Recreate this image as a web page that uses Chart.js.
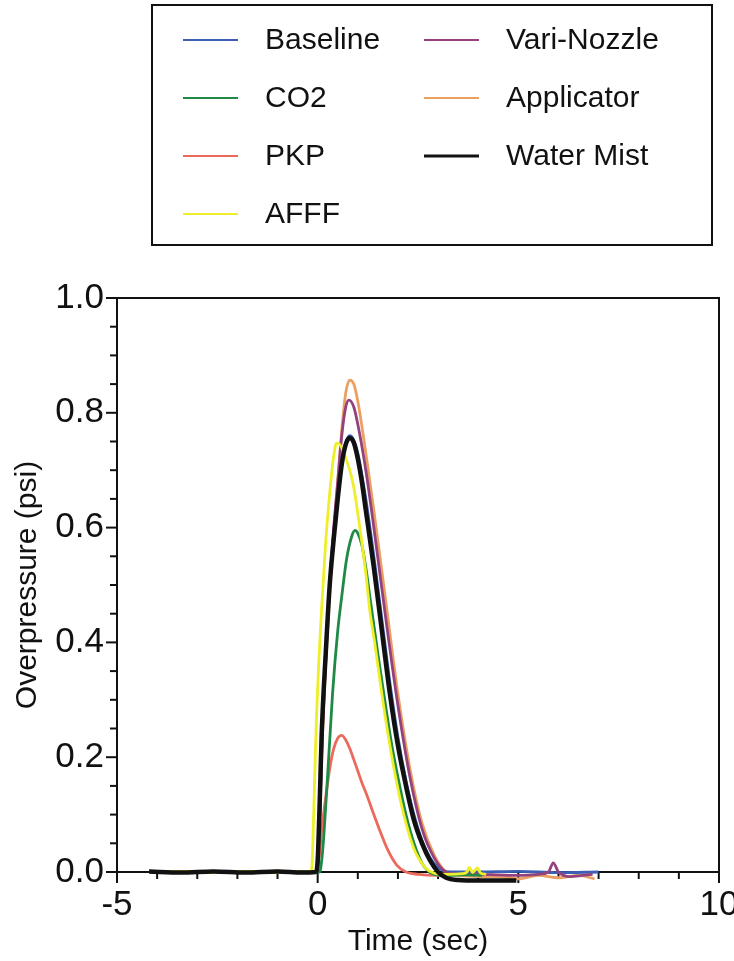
<!DOCTYPE html>
<html>
<head>
<meta charset="utf-8">
<title>Overpressure vs Time</title>
<script src="https://cdn.jsdelivr.net/npm/chart.js@4.4.1/dist/chart.umd.min.js"></script>
<style>
  html, body { margin: 0; padding: 0; background: #fff; }
  canvas { display: block; }
</style>
</head>
<body>
<canvas id="pressure" width="734" height="961"></canvas>
<script>
// legend order: left column first (4 rows), then right column
const seriesNames = ["Baseline", "CO2", "PKP", "AFFF", "Vari-Nozzle", "Applicator", "Water Mist"];
const seriesColors = ["#3b5fb5", "#1e8a46", "#ec6a5c", "#eeee2a", "#93427e", "#eba062", "#111111"];

const xLabelTicks = [-5, 0, 5, 10];
const yLabelTicks = [0.0, 0.2, 0.4, 0.6, 0.8, 1.0];

// [time (sec), overpressure (psi)] for each run
const baseline = [
  [-4.2, 0.001], [-3.4, -0.001], [-2.6, 0.001], [-1.8, -0.001], [-1.0, 0.001], [-0.4, 0.0],
  [-0.05, 0.0], [0.0, 0.01], [0.05, 0.1], [0.1, 0.22], [0.2, 0.37], [0.3, 0.5], [0.4, 0.59], [0.5, 0.66],
  [0.6, 0.715], [0.7, 0.748], [0.8, 0.76], [0.9, 0.752], [1.0, 0.73], [1.2, 0.65], [1.4, 0.55], [1.6, 0.44],
  [1.8, 0.33], [2.0, 0.235], [2.2, 0.16], [2.4, 0.1], [2.6, 0.055], [2.8, 0.025], [3.0, 0.008], [3.3, 0.0],
  [4.0, 0.0], [5.0, 0.001], [6.0, -0.001], [7.0, 0.0]
];
const co2 = [
  [-4.2, 0.001], [-3.4, -0.001], [-2.6, 0.0], [-1.8, 0.001], [-1.0, -0.001], [-0.4, 0.001],
  [0.05, 0.0], [0.1, 0.02], [0.15, 0.06], [0.25, 0.17], [0.37, 0.31], [0.5, 0.42], [0.6, 0.48], [0.72, 0.545],
  [0.85, 0.585], [0.93, 0.595], [1.0, 0.59], [1.1, 0.57], [1.2, 0.53], [1.3, 0.48], [1.4, 0.43], [1.5, 0.38],
  [1.67, 0.3], [1.85, 0.22], [2.0, 0.165], [2.2, 0.1], [2.4, 0.05], [2.6, 0.015], [2.75, 0.002], [2.9, -0.004],
  [3.3, -0.006], [3.7, -0.005], [4.1, -0.006]
];
const pkp = [
  [-4.2, 0.0], [-3.4, 0.001], [-2.6, -0.001], [-1.8, 0.001], [-1.0, 0.0], [-0.4, -0.001],
  [-0.05, 0.0], [0.0, 0.005], [0.05, 0.035], [0.12, 0.085], [0.2, 0.13], [0.3, 0.18], [0.4, 0.215], [0.5, 0.233],
  [0.6, 0.238], [0.7, 0.23], [0.8, 0.215], [0.9, 0.196], [1.0, 0.176], [1.1, 0.156], [1.22, 0.135], [1.4, 0.1],
  [1.55, 0.072], [1.75, 0.038], [1.97, 0.012], [2.2, 0.0], [2.5, -0.004], [3.0, -0.006], [3.4, -0.005]
];
const afff = [
  [-4.2, 0.0], [-3.4, 0.001], [-2.6, -0.001], [-1.8, 0.001], [-1.0, -0.001], [-0.4, 0.0],
  [-0.2, 0.0], [-0.15, 0.005], [-0.12, 0.05], [-0.08, 0.15], [-0.03, 0.27], [0.03, 0.37], [0.1, 0.46], [0.2, 0.575],
  [0.3, 0.66], [0.4, 0.725], [0.47, 0.747], [0.55, 0.745], [0.65, 0.73], [0.8, 0.7], [0.9, 0.67], [1.0, 0.625],
  [1.1, 0.575], [1.2, 0.52], [1.3, 0.455], [1.42, 0.4], [1.62, 0.3], [1.8, 0.22], [2.0, 0.145], [2.2, 0.085],
  [2.4, 0.04], [2.55, 0.02], [2.7, 0.006], [2.9, -0.002], [3.2, -0.004], [3.6, -0.003], [3.72, 0.0], [3.78, 0.008],
  [3.86, -0.001], [3.98, 0.007], [4.06, -0.002], [4.2, -0.004]
];
const variNozzle = [
  [-4.2, 0.001], [-3.4, -0.001], [-2.6, 0.001], [-1.8, -0.001], [-1.0, 0.001], [-0.4, -0.001],
  [-0.05, 0.0], [0.0, 0.015], [0.05, 0.09], [0.1, 0.21], [0.2, 0.37], [0.3, 0.5], [0.4, 0.6], [0.5, 0.68],
  [0.6, 0.76], [0.7, 0.81], [0.78, 0.822], [0.9, 0.81], [1.0, 0.78], [1.2, 0.7], [1.4, 0.6], [1.7, 0.44],
  [2.0, 0.29], [2.3, 0.165], [2.6, 0.075], [2.9, 0.025], [3.2, 0.0], [3.5, -0.004], [4.0, -0.004], [4.5, -0.005],
  [5.0, -0.006], [5.5, -0.004], [5.75, 0.0], [5.87, 0.016], [6.0, 0.0], [6.3, -0.008], [6.6, -0.006], [6.85, -0.004]
];
const applicator = [
  [-4.2, 0.002], [-3.4, -0.001], [-2.6, 0.001], [-1.8, -0.001], [-1.0, 0.002], [-0.4, -0.001],
  [-0.05, 0.0], [0.0, 0.01], [0.05, 0.08], [0.1, 0.2], [0.2, 0.36], [0.3, 0.49], [0.4, 0.59], [0.5, 0.68],
  [0.6, 0.77], [0.7, 0.835], [0.8, 0.857], [0.9, 0.85], [1.0, 0.82], [1.2, 0.73], [1.4, 0.63], [1.7, 0.47],
  [2.0, 0.31], [2.3, 0.18], [2.6, 0.085], [2.9, 0.03], [3.2, 0.0], [3.5, -0.006], [4.0, -0.008], [4.5, -0.008],
  [5.0, -0.012], [5.5, -0.006], [6.0, -0.01], [6.5, -0.006], [6.9, -0.012]
];
const waterMist = [
  [-4.2, 0.001], [-3.4, -0.001], [-2.6, 0.001], [-1.8, -0.001], [-1.0, 0.001], [-0.4, -0.001],
  [-0.05, 0.0], [0.0, 0.02], [0.05, 0.12], [0.1, 0.24], [0.2, 0.38], [0.3, 0.5], [0.4, 0.58], [0.5, 0.65],
  [0.6, 0.71], [0.7, 0.745], [0.8, 0.756], [0.9, 0.748], [1.0, 0.72], [1.1, 0.68], [1.2, 0.63], [1.4, 0.53],
  [1.6, 0.42], [1.8, 0.31], [2.0, 0.22], [2.2, 0.15], [2.4, 0.09], [2.6, 0.05], [2.8, 0.02], [3.0, 0.0],
  [3.2, -0.01], [3.5, -0.014], [4.0, -0.015], [4.5, -0.015], [4.95, -0.015]
];

const runs = [baseline, co2, pkp, afff, variNozzle, applicator, waterMist];
// lower order = drawn on top
const drawOrder = [6, 2, 3, 1, 4, 5, 0];

const FONT = '"Liberation Sans", Arial, Helvetica, sans-serif';
Chart.defaults.font.family = FONT;
Chart.defaults.color = "#111";

const isLabelled = (list, v) => list.some(t => Math.abs(t - v) < 1e-6);

// frame around the plot and outward tick marks (long at labelled ticks)
const frame = {
  id: "frame",
  beforeDatasetsDraw(chart) {
    const { ctx, chartArea: a, scales } = chart;
    ctx.save();
    ctx.strokeStyle = "#111";
    ctx.lineWidth = 2;
    ctx.strokeRect(a.left, a.top, a.right - a.left, a.bottom - a.top);
    scales.x.ticks.forEach(t => {
      const px = scales.x.getPixelForValue(t.value);
      const len = isLabelled(xLabelTicks, t.value) ? 11 : 7;
      ctx.beginPath();
      ctx.moveTo(px, a.bottom);
      ctx.lineTo(px, a.bottom + len);
      ctx.stroke();
    });
    scales.y.ticks.forEach(t => {
      const py = scales.y.getPixelForValue(t.value);
      const len = isLabelled(yLabelTicks, t.value) ? 11 : 7;
      ctx.beginPath();
      ctx.moveTo(a.left, py);
      ctx.lineTo(a.left - len, py);
      ctx.stroke();
    });
    ctx.restore();
  }
};

// boxed two-column legend above the plot
const legendBox = {
  id: "legendBox",
  afterDraw(chart) {
    const ctx = chart.ctx;
    ctx.save();
    ctx.strokeStyle = "#111";
    ctx.lineWidth = 2;
    ctx.strokeRect(152, 5, 560, 240);
    ctx.font = "30px " + FONT;
    ctx.textBaseline = "middle";
    ctx.fillStyle = "#111";
    chart.data.datasets.forEach((ds, i) => {
      const col = i < 4 ? 0 : 1;
      const row = col ? i - 4 : i;
      const x = col ? 424 : 183;
      const y = 40 + row * 58;
      ctx.strokeStyle = ds.borderColor;
      ctx.lineWidth = ds.label === "Water Mist" ? 3 : 2;
      ctx.beginPath();
      ctx.moveTo(x, y);
      ctx.lineTo(x + 55, y);
      ctx.stroke();
      ctx.fillText(ds.label, x + 82, y + 1);
    });
    ctx.restore();
  }
};

new Chart(document.getElementById("pressure"), {
  type: "line",
  data: {
    datasets: runs.map((run, i) => ({
      label: seriesNames[i],
      data: run.map(([t, p]) => ({ x: t, y: p })),
      borderColor: seriesColors[i],
      borderWidth: seriesNames[i] === "Water Mist" ? 4.5 : 2.8,
      pointRadius: 0,
      fill: false,
      cubicInterpolationMode: "monotone",
      clip: false,
      order: drawOrder[i]
    }))
  },
  options: {
    responsive: false,
    animation: false,
    layout: { padding: { top: 298, right: 15, bottom: 0, left: 0 } },
    plugins: {
      legend: { display: false },
      tooltip: { enabled: false }
    },
    scales: {
      x: {
        type: "linear",
        min: -5,
        max: 10,
        ticks: {
          stepSize: 1,
          autoSkip: false,
          maxRotation: 0,
          padding: 12,
          font: { size: 35 },
          callback: v => (isLabelled(xLabelTicks, v) ? String(v) : "")
        },
        grid: { drawOnChartArea: false, drawTicks: false },
        border: { display: false },
        title: { display: true, text: "Time (sec)", font: { size: 30 }, padding: { top: 0, bottom: 1 } },
        afterFit: s => { s.height = 89; s.paddingLeft = 0; s.paddingRight = 0; }
      },
      y: {
        min: 0,
        max: 1,
        ticks: {
          stepSize: 0.05,
          autoSkip: false,
          padding: 13,
          font: { size: 35 },
          callback: v => (isLabelled(yLabelTicks, v) ? v.toFixed(1) : "")
        },
        grid: { drawOnChartArea: false, drawTicks: false },
        border: { display: false },
        title: { display: true, text: "Overpressure (psi)", font: { size: 30 }, padding: { top: 10, bottom: 0 } },
        afterFit: s => { s.width = 117; s.paddingTop = 0; s.paddingBottom = 0; }
      }
    }
  },
  plugins: [frame, legendBox]
});
</script>
</body>
</html>
